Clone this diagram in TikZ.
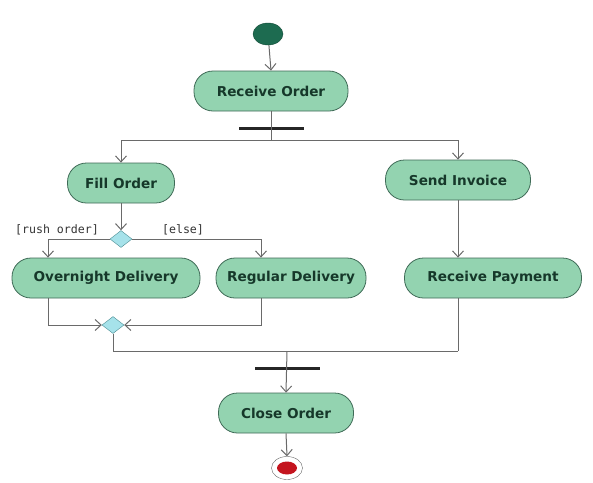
\documentclass[tikz,border=0pt]{standalone}
\usepackage{fontspec}
\setmainfont{DejaVu Sans}
\setmonofont{DejaVu Sans Mono}
\usetikzlibrary{shapes.geometric,arrows.meta}

\definecolor{actfill}{HTML}{93D3B0}
\definecolor{actdraw}{HTML}{3E6A56}
\definecolor{acttext}{HTML}{16382A}
\definecolor{decfill}{HTML}{A6E2EA}
\definecolor{decdraw}{HTML}{4A8C92}
\definecolor{flowline}{HTML}{6A6A6A}
\definecolor{startfill}{HTML}{1D6B50}
\definecolor{endfill}{HTML}{C4141E}

\begin{document}
\begin{tikzpicture}[x=1pt,y=-1pt]

	\tikzset{
		activity/.style={
			draw=actdraw,
			fill=actfill,
			rectangle,
			rounded corners=19pt,
			thick,
			minimum height=40pt,
			inner sep=2pt,
			text=acttext,
			font=\fontsize{13.6}{15}\selectfont\bfseries
		},
		decision/.style={
			draw=decdraw,
			fill=decfill,
			diamond,
			minimum width=22pt,
			minimum height=17pt,
			inner sep=0pt
		},
		syncbar/.style={
			fill=black!85,
			rectangle,
			minimum width=65pt,
			minimum height=3pt,
			inner sep=0pt
		},
		guard/.style={
			inner sep=1pt,
			text=black!80,
			font=\fontsize{11.6}{13}\selectfont\ttfamily
		},
		flow/.style={
			draw=flowline,
			line width=1pt,
			-{Straight Barb[length=6pt,width=11pt]}
		},
		plain/.style={
			draw=flowline,
			line width=1pt
		}
	}

	\useasboundingbox (0,0) rectangle (593,482);

	% START / END
	\node[ellipse,draw=startfill!70!black,fill=startfill,minimum width=30pt,minimum height=22pt] (start) at (268,34) {};
	\node[ellipse,draw=flowline,fill=white,minimum width=31pt,minimum height=23pt] (finish) at (287,468) {};
	\node[ellipse,fill=endfill,minimum width=20pt,minimum height=13pt,inner sep=0pt] (finishdot) at (finish) {};

	% ACTIVITIES
	\node[activity,minimum width=154pt] (receive) at (271,91) {Receive Order};
	\node[activity,minimum width=107pt] (fill) at (121,183) {Fill Order};
	\node[activity,minimum width=145pt] (invoice) at (458,180) {Send Invoice};
	\node[activity,minimum width=188pt] (overnight) at (106,278) {Overnight Delivery};
	\node[activity,minimum width=150pt] (regular) at (291,278) {Regular Delivery};
	\node[activity,minimum width=177pt] (payment) at (493,278) {Receive Payment};
	\node[activity,minimum width=135pt] (close) at (286,413) {Close Order};

	% DECISION / MERGE
	\node[decision] (choose) at (121,239) {};
	\node[decision] (merge) at (113,325) {};

	% FORK / JOIN
	\node[syncbar] (fork) at (271,128) {};
	\node[syncbar] (join) at (287,368) {};
	\coordinate (forkline) at (271,140);
	\coordinate (forkleft) at (121,140);
	\coordinate (forkright) at (458,140);
	\coordinate (joinline) at (287,351);
	\coordinate (joinright) at (458,351);

	% GUARDS
	\node[guard,anchor=south] (rush) at (57,236) {[rush order]};
	\node[guard,anchor=south] (else) at (183,236) {[else]};

	% FLOWS
	\draw[flow] (start) -- (receive.north);
	\draw[plain] (receive.south) -- (forkline);
	\draw[plain] (forkleft) -- (forkright);
	\draw[flow] (forkleft) -- (fill.north);
	\draw[flow] (forkright) -- (invoice.north);
	\draw[flow] (fill.south) -- (choose.north);
	\draw[flow] (choose.west) -| ([xshift=-58pt]overnight.north);
	\draw[flow] (choose.east) -| ([xshift=-30pt]regular.north);
	\draw[flow] (invoice.south) -- ([xshift=-35pt]payment.north);
	\draw[flow] ([xshift=-58pt]overnight.south) |- (merge.west);
	\draw[flow] ([xshift=-30pt]regular.south) |- (merge.east);
	\draw[plain] (merge.south) |- (joinright);
	\draw[plain] ([xshift=-35pt]payment.south) -- (joinright);
	\draw[flow] (joinline) -- (close.north);
	\draw[flow] (close.south) -- (finish.north);

\end{tikzpicture}
\end{document}
